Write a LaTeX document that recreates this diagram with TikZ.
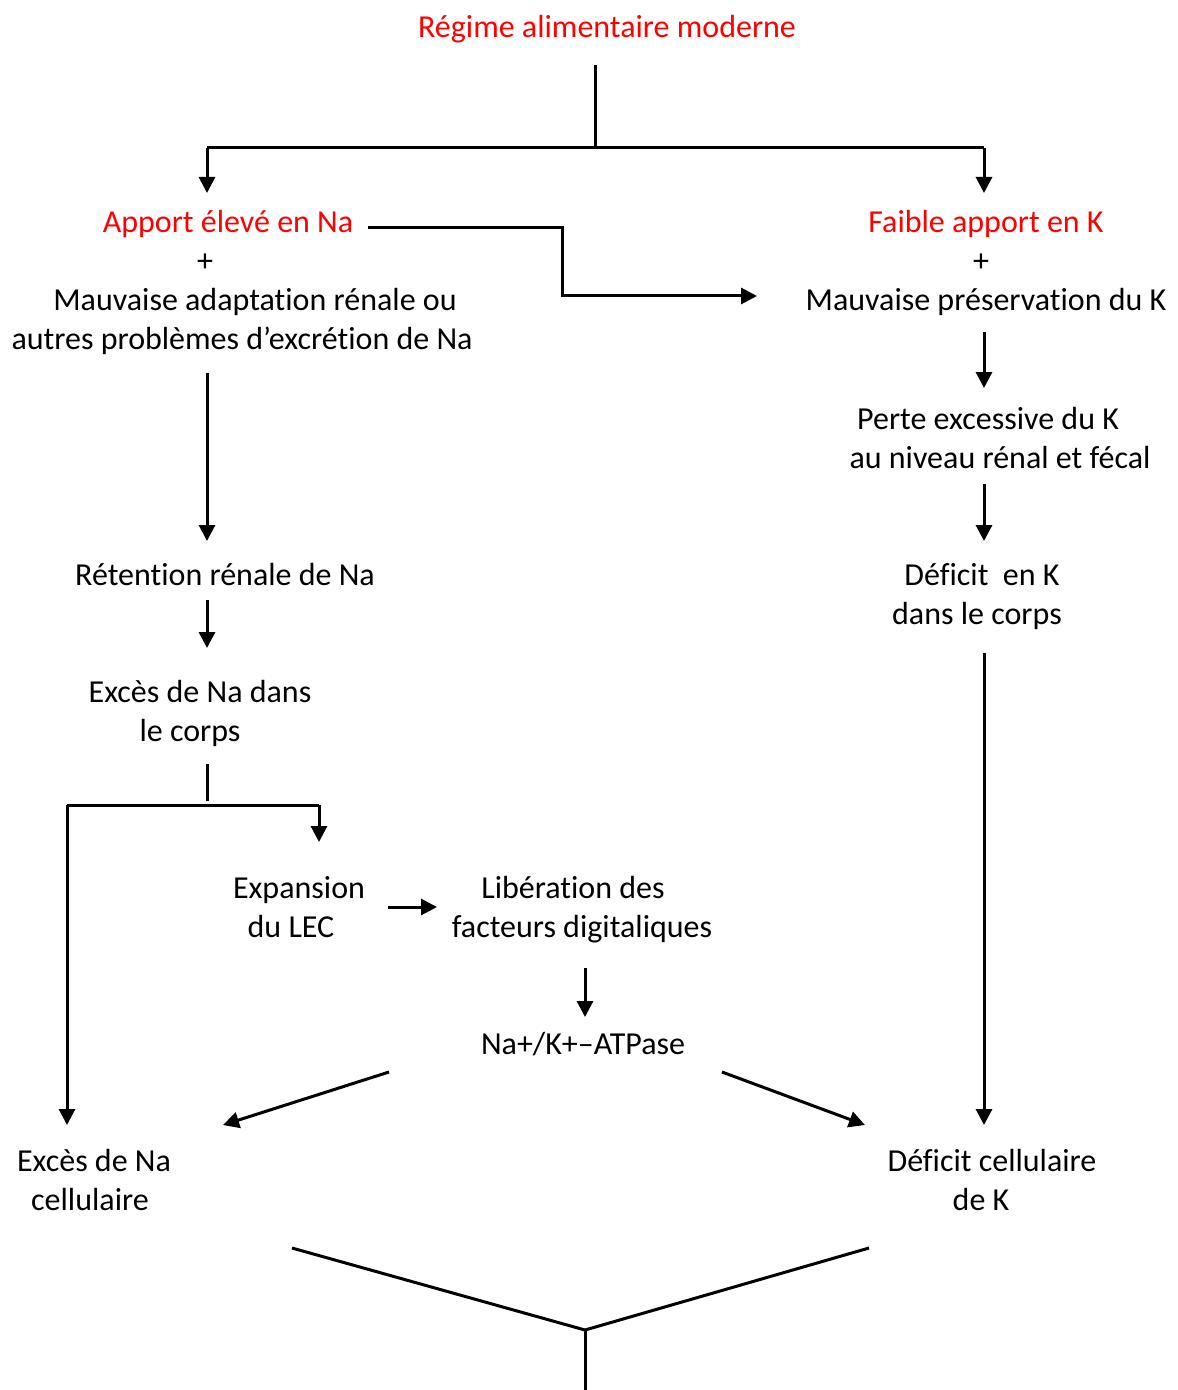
\documentclass[tikz,border=0pt]{standalone}
\usepackage{fontspec}
\setmainfont{Carlito}[Ligatures={NoCommon}]
\usetikzlibrary{arrows.meta}
\begin{document}
\begin{tikzpicture}[x=0.5pt,y=-0.5pt,
  txt/.style={font=\fontsize{16}{19.5}\selectfont, inner sep=0pt, anchor=base},
  redtxt/.style={txt, text=red},
  arr/.style={-{Triangle[length=8pt,width=8pt]}, line width=1.5pt},
  ln/.style={line width=1.5pt}]
\useasboundingbox (0,0) rectangle (1177,1390);
% texts (positions are baselines)
\node[redtxt] (title) at (607,38) {Régime alimentaire moderne};
\node[redtxt] (na) at (228,233) {Apport élevé en Na};
\node[txt] (plusL) at (205,272) {+};
\node[txt] (mauvLa) at (255,311) {Mauvaise adaptation rénale ou};
\node[txt] (mauvLb) at (242,350) {autres problèmes d’excrétion de Na};
\node[redtxt] (k) at (986,233) {Faible apport en K};
\node[txt] (plusR) at (981,272) {+};
\node[txt] (mauvR) at (986,311) {Mauvaise préservation du K};
\node[txt] (pertea) at (988,429) {Perte excessive du K};
\node[txt] (perteb) at (1000,468) {au niveau rénal et fécal};
\node[txt] (defKa) at (982,585) {Déficit~ en K};
\node[txt] (defKb) at (977,624) {dans le corps};
\node[txt] (ret) at (225,585) {Rétention rénale de Na};
\node[txt] (exca) at (200,702) {Excès de Na dans};
\node[txt] (excb) at (190,741) {le corps};
\node[txt] (expa) at (299,898) {Expansion};
\node[txt] (expb) at (291,937) {du LEC};
\node[txt] (liba) at (573,898) {Libération des};
\node[txt] (libb) at (582,937) {facteurs digitaliques};
\node[txt] (atp) at (583,1054) {Na+/K+–ATPase};
\node[txt] (excCa) at (94,1171) {Excès de Na};
\node[txt] (excCb) at (90,1210) {cellulaire};
\node[txt] (defCa) at (992,1171) {Déficit cellulaire};
\node[txt] (defCb) at (981,1210) {de K};
% coordinates
\coordinate (t1) at (595,65);
\coordinate (t2) at (595,148);
\coordinate (tL) at (207,148);
\coordinate (tR) at (984,148);
\coordinate (tLa) at (207,193);
\coordinate (tRa) at (984,193);
\coordinate (c1) at (368,228);
\coordinate (c2) at (562,228);
\coordinate (c3) at (562,296);
\coordinate (c4) at (757,296);
\coordinate (r1) at (984,332);
\coordinate (r1a) at (984,388);
\coordinate (r2) at (984,484);
\coordinate (r2a) at (984,541);
\coordinate (r3) at (984,653);
\coordinate (r3a) at (984,1125);
\coordinate (l1) at (207,373);
\coordinate (l1a) at (207,541);
\coordinate (l2) at (207,600);
\coordinate (l2a) at (207,648);
\coordinate (l3) at (207,764);
\coordinate (l4) at (207,801);
\coordinate (hL) at (67,805);
\coordinate (hR) at (319,805);
\coordinate (hLa) at (67,1125);
\coordinate (hRa) at (319,842);
\coordinate (e1) at (388,907);
\coordinate (e1a) at (437,907);
\coordinate (d1) at (585,968);
\coordinate (d1a) at (585,1017);
\coordinate (s1) at (389,1072);
\coordinate (s1a) at (223,1125);
\coordinate (s2) at (722,1072);
\coordinate (s2a) at (865,1125);
\coordinate (b1) at (292,1248);
\coordinate (b2) at (585,1330);
\coordinate (b3) at (869,1248);
\coordinate (b4) at (585,1390);
% connectors
\draw[ln] (t1) -- (t2);
\draw[ln] (tL) -- (tR);
\draw[arr] (tL) -- (tLa);
\draw[arr] (tR) -- (tRa);
\draw[arr] (c1) -- (c2) -- (c3) -- (c4);
\draw[arr] (r1) -- (r1a);
\draw[arr] (r2) -- (r2a);
\draw[arr] (r3) -- (r3a);
\draw[arr] (l1) -- (l1a);
\draw[arr] (l2) -- (l2a);
\draw[ln] (l3) -- (l4);
\draw[arr] (hL) -- (hLa);
\draw[ln] (hL) -- (hR);
\draw[arr] (hR) -- (hRa);
\draw[arr] (e1) -- (e1a);
\draw[arr] (d1) -- (d1a);
\draw[arr] (s1) -- (s1a);
\draw[arr] (s2) -- (s2a);
\draw[ln] (b1) -- (b2) -- (b3);
\draw[ln] (b2) -- (b4);
\end{tikzpicture}
\end{document}
